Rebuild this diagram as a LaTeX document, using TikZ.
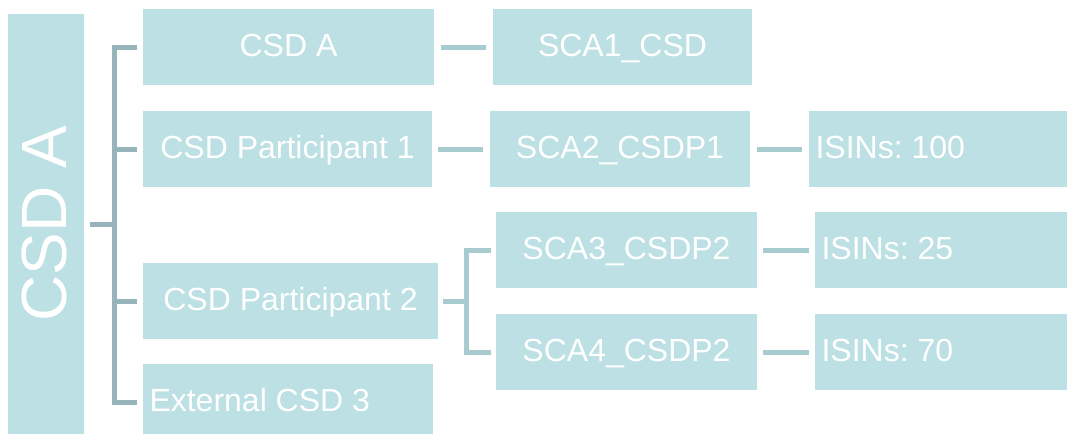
\documentclass[tikz,border=0pt]{standalone}
\usepackage{fontspec}
\setmainfont{Liberation Sans}
\usetikzlibrary{backgrounds}
\definecolor{boxc}{RGB}{188,224,227}
\definecolor{spinec}{RGB}{150,180,185}
\definecolor{connc}{RGB}{168,203,207}
\newcommand\myleftbox[2]{\hbox to #1{#2\hfil}}
\begin{document}
\frenchspacing
\begin{tikzpicture}[x=1pt,y=-1pt,
  box/.style={fill=boxc, text=white, inner sep=0pt, outer sep=0pt,
    minimum height=76pt, anchor=north west,
    font=\fontsize{32}{38}\selectfont\frenchspacing, text height=26pt, text depth=7pt},
  lbox/.style={box, inner xsep=6.5pt},
  spine/.style={draw=spinec, line width=5pt, line join=miter},
  conn/.style={draw=connc, line width=5pt, line join=miter}]
\useasboundingbox (0,0) rectangle (1067,434);
% big left box
\node[fill=boxc, inner sep=0pt, outer sep=0pt, minimum width=76pt, minimum height=420pt, anchor=north west] (big) at (8,14) {};
\node[rotate=90, text=white, inner sep=0pt, font=\fontsize{64}{70}\selectfont] (bigtext) at ([xshift=-2pt,yshift=0.5pt]big.center) {CSD A};
% second column
\node[box, minimum width=291pt] (csda) at (143,9) {CSD A};
\node[box, minimum width=289pt] (csdp1) at (143,111) {CSD Participant 1};
\node[box, minimum width=295pt] (csdp2) at (143,263) {CSD Participant 2};
\node[lbox, minimum width=290pt, minimum height=70pt, text height=30pt, text depth=5pt] (ext) at (143,364) {\myleftbox{277pt}{External CSD 3}};
% third column
\node[box, minimum width=259pt] (sca1) at (493,9) {SCA1\_CSD};
\node[box, minimum width=260pt] (sca2) at (490,111) {SCA2\_CSDP1};
\node[box, minimum width=261pt] (sca3) at (496,212) {SCA3\_CSDP2};
\node[box, minimum width=261pt] (sca4) at (496,314) {SCA4\_CSDP2};
% fourth column (reaching the right edge)
\node[lbox, minimum width=258pt] (isin100) at (809,111) {\myleftbox{245pt}{ISINs: 100}};
\node[lbox, minimum width=252pt] (isin25) at (815,212) {\myleftbox{239pt}{ISINs: 25}};
\node[lbox, minimum width=252pt] (isin70) at (815,314) {\myleftbox{239pt}{ISINs: 70}};
\begin{scope}[on background layer]
  \fill[white] (0,0) rectangle (1067,434);
  \fill[boxc] (isin100.north west) rectangle ([xshift=2pt]isin100.south east);
  \fill[boxc] (isin25.north west) rectangle ([xshift=2pt]isin25.south east);
  \fill[boxc] (isin70.north west) rectangle ([xshift=2pt]isin70.south east);
\end{scope}
% main bracket
\draw[spine] ([xshift=6pt]big.east) -- ++(24pt,0);
\draw[spine] ([xshift=-6pt]csda.west) -- ++(-23pt,0) |- ([xshift=-6pt,yshift=-3pt]ext.west);
\draw[spine] ([xshift=-6pt]csdp1.west) -- ++(-23pt,0);
\draw[spine] ([xshift=-6pt]csdp2.west) -- ++(-23pt,0);
% other connectors
\draw[conn] ([xshift=7pt]csda.east) -- ([xshift=-7pt]sca1.west);
\draw[conn] ([xshift=6pt]csdp1.east) -- ([xshift=-7pt]sca2.west);
\draw[conn] ([xshift=7pt]sca2.east) -- ([xshift=-7pt]isin100.west);
\draw[conn] ([xshift=5pt]csdp2.east) -- ++(23pt,0);
\draw[conn] ([xshift=-5pt]sca3.west) -- ++(-25pt,0) |- ([xshift=-5pt]sca4.west);
\draw[conn] ([xshift=6pt]sca3.east) -- ([xshift=-6pt]isin25.west);
\draw[conn] ([xshift=6pt]sca4.east) -- ([xshift=-6pt]isin70.west);
\end{tikzpicture}
\end{document}
